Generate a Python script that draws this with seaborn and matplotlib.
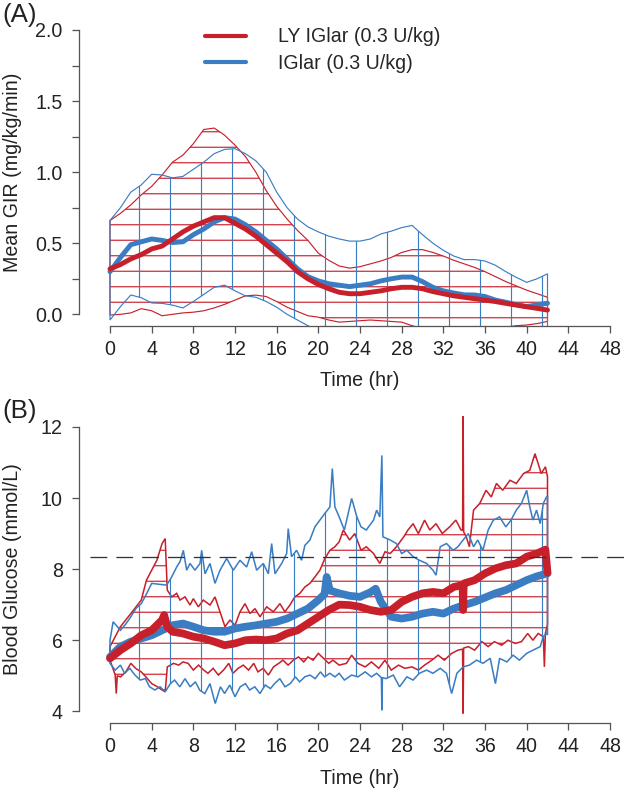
import numpy as np
import pandas as pd
import seaborn as sns
import matplotlib
matplotlib.use("Agg")
import matplotlib.pyplot as plt
from matplotlib.lines import Line2D

RED = "#C8202B"
BLUE = "#3A7DC3"

# ---- panel A: glucose infusion rate (mg/kg/min), hourly ----
gir_t = list(range(43))
gir_ly_mean = [0.32, 0.35, 0.39, 0.42, 0.46, 0.48, 0.53, 0.58, 0.62, 0.65, 0.68, 0.68, 0.64, 0.60, 0.55,
               0.49, 0.43, 0.37, 0.30, 0.25, 0.21, 0.18, 0.155, 0.145, 0.145, 0.155, 0.165, 0.18, 0.19,
               0.19, 0.18, 0.16, 0.145, 0.13, 0.12, 0.11, 0.10, 0.09, 0.077, 0.065, 0.053, 0.042, 0.03]
gir_ly_upper = [0.66, 0.71, 0.77, 0.84, 0.90, 0.98, 1.07, 1.12, 1.20, 1.30, 1.31, 1.26, 1.19, 1.11, 1.00,
                0.87, 0.76, 0.67, 0.59, 0.52, 0.43, 0.38, 0.34, 0.325, 0.335, 0.355, 0.375, 0.40, 0.435,
                0.455, 0.455, 0.435, 0.41, 0.38, 0.355, 0.33, 0.30, 0.265, 0.23, 0.20, 0.17, 0.145, 0.12]
gir_ly_lower = [-0.005, 0.0, 0.01, 0.04, 0.025, -0.01, 0.0, 0.01, 0.015, 0.025, 0.045, 0.07, 0.10, 0.13,
                0.135, 0.125, 0.09, 0.05, 0.02, -0.01, -0.02, -0.04, -0.055, -0.05, -0.045, -0.04, -0.045,
                -0.05, -0.055, -0.08, -0.10, -0.11, -0.12, -0.12, -0.12, -0.12, -0.11, -0.10, -0.09, -0.08,
                -0.075, -0.065, -0.05]
gir_ig_mean = [0.30, 0.40, 0.49, 0.51, 0.53, 0.52, 0.505, 0.51, 0.56, 0.60, 0.65, 0.68, 0.67, 0.63, 0.58,
               0.52, 0.46, 0.39, 0.32, 0.265, 0.235, 0.215, 0.205, 0.195, 0.205, 0.215, 0.235, 0.25, 0.262,
               0.262, 0.23, 0.19, 0.165, 0.15, 0.137, 0.136, 0.125, 0.10, 0.085, 0.068, 0.055, 0.066, 0.078]
gir_ig_upper = [0.66, 0.75, 0.86, 0.91, 0.985, 0.98, 0.96, 0.97, 1.02, 1.07, 1.13, 1.16, 1.165, 1.13, 1.08,
                1.00, 0.86, 0.75, 0.67, 0.615, 0.58, 0.55, 0.53, 0.515, 0.515, 0.53, 0.565, 0.585, 0.61,
                0.625, 0.56, 0.50, 0.45, 0.41, 0.385, 0.385, 0.375, 0.345, 0.30, 0.26, 0.225, 0.25, 0.285]
gir_ig_lower = [-0.04, 0.054, 0.136, 0.117, 0.08, 0.077, 0.065, 0.045, 0.09, 0.14, 0.19, 0.205, 0.165, 0.13,
                0.12, 0.09, 0.05, 0.0, -0.04, -0.08, -0.12, -0.15, -0.17, -0.18, -0.19, -0.19, -0.2, -0.2,
                -0.2, -0.2, -0.2, -0.2, -0.2, -0.2, -0.19, -0.18, -0.17, -0.16, -0.15, -0.14, -0.13, -0.12,
                -0.12]

# ---- panel B: blood glucose (mmol/L), (time hr, value) ----
bg_ly_mean = [(0, 5.49), (1, 5.72), (2, 5.91), (3, 6.14), (4, 6.28), (5, 6.57), (5.2, 6.71), (5.5, 6.38),
              (6, 6.24), (7, 6.19), (8, 6.10), (9, 6.05), (10, 5.96), (11, 5.86), (12, 5.91), (13, 6.00),
              (14, 6.02), (15, 6.00), (16, 6.05), (17, 6.19), (18, 6.28), (19, 6.47), (20, 6.66), (21, 6.85),
              (22, 7.00), (23, 6.99), (24, 6.94), (25, 6.85), (26, 6.80), (27, 6.85), (28, 7.08), (29, 7.22),
              (30, 7.32), (31, 7.36), (32, 7.32), (33, 7.50), (33.85, 7.55), (33.9, 6.85), (33.95, 7.55),
              (34, 7.60), (35, 7.69), (36, 7.88), (37, 8.02), (38, 8.11), (39, 8.16), (40, 8.35), (41, 8.44),
              (41.8, 8.55), (42, 7.90)]
bg_ig_mean = [(0, 5.53), (1, 5.82), (2, 5.96), (3, 6.05), (4, 6.14), (5, 6.28), (6, 6.42), (7, 6.47),
              (8, 6.38), (9, 6.28), (10, 6.24), (11, 6.24), (12, 6.33), (13, 6.38), (14, 6.42), (15, 6.47),
              (16, 6.52), (17, 6.61), (18, 6.75), (19, 6.89), (20, 7.13), (20.6, 7.30), (20.8, 7.78),
              (21.1, 7.40), (22, 7.32), (23, 7.25), (24, 7.22), (25, 7.35), (25.5, 7.45), (26, 7.08),
              (27, 6.66), (28, 6.61), (29, 6.66), (30, 6.75), (31, 6.80), (32, 6.75), (33, 6.89), (34, 6.99),
              (35, 7.08), (36, 7.20), (37, 7.32), (38, 7.41), (39, 7.55), (40, 7.69), (41, 7.80), (42, 7.88)]
bg_ly_upper = [(0, 5.82), (0.5, 6.10), (1, 6.38), (2, 6.75), (3, 7.13), (3.5, 7.69), (4, 7.97), (4.5, 8.25),
               (5, 8.72), (5.3, 8.86), (5.5, 7.41), (5.92, 7.22), (6.4, 7.32), (6.72, 7.13), (7.2, 7.22),
               (7.68, 6.99), (8.0, 7.17), (8.48, 6.94), (8.96, 7.13), (9.6, 6.99), (10.08, 7.22),
               (10.4, 6.94), (10.72, 6.66), (11.04, 6.38), (11.52, 6.57), (12.0, 6.42), (12.48, 6.80),
               (12.96, 7.03), (13.44, 6.75), (13.92, 6.89), (14.4, 6.66), (15.04, 6.94), (15.68, 6.80),
               (16.31, 7.03), (16.79, 6.80), (17.27, 6.99), (17.75, 7.22), (18.23, 7.32), (18.71, 7.50),
               (19.19, 7.60), (19.67, 7.78), (20.15, 7.97), (20.63, 8.30), (21.11, 8.53), (21.59, 8.63),
               (22.0, 8.77), (22.4, 9.10), (23.0, 8.82), (23.5, 9.0), (24.1, 8.53), (24.6, 8.63), (25.3, 8.44),
               (25.9, 8.16), (26.4, 8.49), (26.9, 8.44), (27.5, 8.63), (28.2, 8.91), (28.6, 9.10),
               (29.1, 9.28), (29.6, 9.0), (30.2, 9.38), (30.7, 9.10), (31.3, 9.28), (31.9, 9.0), (32.6, 9.19),
               (33.2, 9.38), (33.7, 9.10), (33.85, 9.10), (33.9, 12.3), (33.95, 9.05), (34.2, 8.91),
               (34.5, 8.63), (34.9, 9.66), (35.5, 9.85), (36.1, 10.22), (36.6, 10.03), (37.1, 10.41),
               (37.7, 10.22), (38.4, 10.5), (39.0, 10.41), (39.7, 10.69), (40.3, 10.78), (40.8, 11.25),
               (41.1, 10.97), (41.4, 10.69), (41.8, 10.88), (42.0, 10.6)]
bg_ly_lower = [(0, 5.44), (0.5, 5.02), (0.6, 4.50), (0.7, 5.0), (1, 4.97), (1.5, 5.10), (2, 5.35), (2.5, 5.20),
               (3, 5.11), (3.5, 4.95), (4, 4.78), (4.5, 4.70), (5, 4.60), (5.3, 4.55), (5.5, 5.25), (6.1, 5.35),
               (6.6, 5.30), (7.0, 5.39), (7.5, 5.35), (8.0, 5.16), (8.5, 5.30), (9.0, 5.16), (9.4, 5.07),
               (9.9, 5.21), (10.4, 5.02), (10.9, 5.16), (11.4, 5.35), (11.8, 5.07), (12.3, 5.21), (12.8, 5.30),
               (13.3, 5.16), (13.8, 5.35), (14.2, 5.11), (14.7, 5.21), (15.2, 5.02), (15.7, 5.25), (16.2, 5.35),
               (16.6, 5.44), (17.1, 5.30), (17.6, 5.44), (18.1, 5.53), (18.6, 5.39), (19.0, 5.53), (19.5, 5.44),
               (20.0, 5.63), (20.5, 5.49), (21.0, 5.35), (21.4, 5.44), (22.0, 5.30), (22.7, 5.35), (23.2, 5.58),
               (23.8, 5.35), (24.5, 5.25), (25.1, 5.39), (25.8, 5.21), (26.4, 5.44), (27.0, 5.16), (27.7, 5.30),
               (28.3, 5.21), (29.0, 5.25), (29.6, 5.16), (30.2, 5.30), (30.9, 5.44), (31.5, 5.58), (32.1, 5.44),
               (32.8, 5.63), (33.4, 5.72), (33.85, 5.75), (33.9, 3.94), (33.95, 5.78), (34.4, 5.82),
               (35.0, 5.72), (35.7, 5.96), (36.3, 5.82), (36.9, 5.96), (37.6, 5.86), (38.2, 6.0), (38.9, 5.91),
               (39.5, 5.96), (40.1, 6.19), (40.6, 6.0), (41.1, 6.19), (41.6, 6.10), (41.7, 5.25), (41.8, 6.2),
               (42.0, 6.45)]
bg_ig_upper = [(0, 6.00), (0.3, 6.52), (1, 6.28), (1.5, 6.45), (2, 6.66), (2.5, 6.90), (3, 7.03), (3.5, 7.30),
               (4.0, 7.60), (5.44, 7.55), (5.92, 7.78), (6.4, 8.06), (6.72, 8.21), (7.04, 8.53), (7.36, 7.97),
               (7.68, 8.16), (8.16, 7.97), (8.64, 8.16), (8.8, 8.53), (9.12, 7.87), (9.6, 8.16), (10.08, 7.60),
               (10.56, 7.97), (11.2, 8.30), (11.84, 7.97), (12.48, 8.25), (13.12, 8.06), (13.6, 8.49),
               (14.08, 7.97), (14.72, 8.16), (15.2, 7.87), (15.52, 8.72), (15.84, 7.87), (16.48, 8.16),
               (16.96, 8.44), (17.11, 9.14), (17.43, 8.35), (17.91, 8.53), (18.39, 8.25), (18.71, 8.67),
               (19.19, 8.82), (19.67, 9.19), (20.15, 9.38), (20.63, 9.57), (21.11, 9.75), (21.34, 10.83),
               (21.59, 9.75), (22.0, 9.47), (22.5, 9.10), (23.2, 9.99), (23.7, 9.47), (24.1, 9.19),
               (24.6, 9.10), (25.3, 9.38), (25.6, 9.66), (25.9, 9.47), (26.1, 11.2), (26.2, 8.91),
               (26.9, 8.82), (27.5, 8.72), (28.0, 8.44), (28.5, 8.53), (29.1, 8.35), (29.7, 8.25),
               (30.4, 8.16), (31.0, 7.97), (31.3, 7.83), (31.7, 8.63), (32.3, 8.72), (32.95, 8.53),
               (33.4, 8.63), (33.9, 8.82), (34.4, 9.00), (34.9, 8.63), (35.3, 8.82), (35.8, 8.53),
               (36.3, 9.10), (36.8, 9.38), (37.4, 9.47), (38.0, 9.19), (38.5, 9.38), (39.0, 9.66),
               (39.5, 9.85), (40.0, 10.22), (40.3, 9.75), (40.6, 9.38), (40.95, 9.66), (41.3, 9.28),
               (41.6, 9.85), (41.9, 10.03), (42.0, 10.03)]
bg_ig_lower = [(0, 5.35), (0.5, 5.16), (1, 5.30), (1.4, 5.07), (1.9, 5.21), (2.4, 5.02), (2.9, 4.88),
               (3.4, 4.92), (3.8, 4.69), (4.3, 4.60), (4.8, 4.69), (5.3, 4.55), (5.8, 4.78), (6.2, 4.88),
               (6.7, 4.69), (7.2, 4.92), (7.7, 4.69), (8.2, 4.83), (8.6, 4.60), (9.1, 4.50), (9.6, 4.78),
               (10.1, 4.22), (10.6, 4.69), (11.0, 4.50), (11.5, 4.74), (12.0, 4.41), (12.5, 4.69), (13.0, 4.78),
               (13.4, 4.60), (13.9, 4.69), (14.4, 4.50), (14.9, 4.74), (15.4, 4.64), (15.8, 4.78), (16.3, 4.92),
               (16.8, 4.69), (17.3, 4.78), (17.8, 4.97), (18.2, 4.83), (18.7, 4.97), (19.2, 5.02), (19.7, 4.92),
               (20.2, 5.11), (20.6, 4.97), (21.1, 5.07), (21.6, 4.97), (22.0, 5.07), (22.5, 4.88), (23.2, 5.02),
               (23.8, 4.97), (24.5, 5.11), (25.1, 4.97), (25.6, 5.07), (26.05, 4.95), (26.1, 4.03),
               (26.15, 4.95), (26.5, 4.92), (27.2, 5.02), (27.8, 4.69), (28.5, 4.97), (29.1, 4.88),
               (29.7, 5.07), (30.4, 5.16), (31.0, 5.07), (31.7, 5.21), (32.3, 5.07), (32.8, 4.50), (33.3, 5.07),
               (33.9, 5.25), (34.5, 5.30), (35.2, 5.44), (35.8, 5.35), (36.5, 5.49), (37.0, 4.78), (37.4, 5.49),
               (38.1, 5.39), (38.7, 5.58), (39.3, 5.44), (40.0, 5.63), (40.6, 5.72), (41.3, 5.82), (41.6, 6.10),
               (41.9, 6.19), (42.0, 6.15)]
bg_target = 8.35

x_ticks = list(range(0, 49, 4))
gir_ticks = [0, 0.25, 0.5, 0.75, 1.0, 1.25, 1.5, 1.75, 2.0]
gir_ticklabels = ["0.0", "", "0.5", "", "1.0", "", "1.5", "", "2.0"]
bg_ticks = [4, 6, 8, 10, 12]
labels = ["LY IGlar (0.3 U/kg)", "IGlar (0.3 U/kg)"]

sns.set_style("ticks")
plt.rcParams["font.family"] = ["Liberation Sans", "DejaVu Sans"]
plt.rcParams["hatch.linewidth"] = 0.45
plt.rcParams["lines.solid_capstyle"] = "round"
plt.rcParams["lines.solid_joinstyle"] = "round"

FS = 7.6
DPI = 186
W, H = 630, 791
fig = plt.figure(figsize=(W / DPI, H / DPI), dpi=DPI)
ax_a = fig.add_axes([90 / W, 1 - 325.7 / H, 540 / W, 307.1 / H])
ax_b = fig.add_axes([90 / W, 1 - 722.7 / H, 540 / W, 307.1 / H])


def band(ax, t_up, up, t_lo, lo, color, hatch, lw):
    xs = np.concatenate([t_up, t_lo[::-1]])
    ys = np.concatenate([up, lo[::-1]])
    ax.fill(xs, ys, facecolor="none", edgecolor=color, hatch=hatch, lw=lw)


def pts(p):
    a = np.array(p, dtype=float)
    return a[:, 0], a[:, 1]


t = np.array(gir_t, dtype=float)
band(ax_a, t, np.array(gir_ly_upper), t, np.array(gir_ly_lower), RED, "--", 0.45)
band(ax_a, t, np.array(gir_ig_upper), t, np.array(gir_ig_lower), BLUE, "|", 0.45)
sns.lineplot(x=gir_t, y=gir_ig_mean, color=BLUE, lw=1.9, ax=ax_a)
sns.lineplot(x=gir_t, y=gir_ly_mean, color=RED, lw=1.9, ax=ax_a)

band(ax_b, *pts(bg_ly_upper), *pts(bg_ly_lower), RED, "--", 0.6)
band(ax_b, *pts(bg_ig_upper), *pts(bg_ig_lower), BLUE, "|", 0.6)
df_ig = pd.DataFrame(bg_ig_mean, columns=["t", "bg"])
df_ly = pd.DataFrame(bg_ly_mean, columns=["t", "bg"])
sns.lineplot(data=df_ig, x="t", y="bg", color=BLUE, lw=3.0, ax=ax_b, sort=False)
sns.lineplot(data=df_ly, x="t", y="bg", color=RED, lw=3.0, ax=ax_b, sort=False)
ax_b.axhline(bg_target, color="#333333", lw=0.5, dashes=(13, 7))

for ax in (ax_a, ax_b):
    ax.set_xlim(-1.92, 49.92)
    ax.set_xticks(x_ticks)
    ax.set_xticklabels([str(v) for v in x_ticks])
    ax.spines["top"].set_visible(False)
    ax.spines["right"].set_visible(False)
    ax.spines["left"].set_position(("outward", 11 * 72 / DPI))
    ax.spines["bottom"].set_bounds(0, 48)
    for s in ("left", "bottom"):
        ax.spines[s].set_color("#555555")
        ax.spines[s].set_linewidth(0.5)
    ax.tick_params(axis="both", direction="out", length=2.7, width=0.5, color="#555555",
                   labelcolor="#222222", labelsize=FS)
    ax.tick_params(axis="x", pad=3.0)
    ax.tick_params(axis="y", pad=3.6)
    ax.set_xlabel("Time (hr)", fontsize=FS, color="#222222")
    ax.xaxis.label.set_va("center")

ax_a.set_ylim(-0.08, 2.08)
ax_a.set_yticks(gir_ticks)
ax_a.set_yticklabels(gir_ticklabels)
ax_a.spines["left"].set_bounds(0, 2)
ax_a.set_ylabel("Mean GIR (mg/kg/min)", fontsize=FS, color="#222222")

ax_b.set_ylim(3.68, 12.32)
ax_b.set_yticks(bg_ticks)
ax_b.set_yticklabels([str(v) for v in bg_ticks])
ax_b.spines["left"].set_bounds(4, 12)
ax_b.set_ylabel("Blood Glucose (mmol/L)", fontsize=FS, color="#222222")

for ax, ymid, xlab_y in ((ax_a, 172, 381), (ax_b, 569, 778)):
    ax.yaxis.label.set_va("center")
    ax.yaxis.set_label_coords(13 / W, 1 - ymid / H, transform=fig.transFigure)
    ax.xaxis.set_label_coords(359.5 / W, 1 - xlab_y / H, transform=fig.transFigure)

handles = [Line2D([], [], color=RED, lw=1.6), Line2D([], [], color=BLUE, lw=1.6)]
ax_a.legend(handles, labels, loc="upper left", bbox_to_anchor=(205 / W, 1 - 27.5 / H),
            bbox_transform=fig.transFigure, frameon=False, borderpad=0, borderaxespad=0,
            handlelength=2.1, handletextpad=1.6, labelspacing=0.38, fontsize=FS)

fig.text(2 / W, 1 - 15 / H, "(A)", fontsize=10, ha="left", va="center", color="#222222")
fig.text(2 / W, 1 - 411 / H, "(B)", fontsize=10, ha="left", va="center", color="#222222")

fig.savefig("out.png", dpi=DPI)
